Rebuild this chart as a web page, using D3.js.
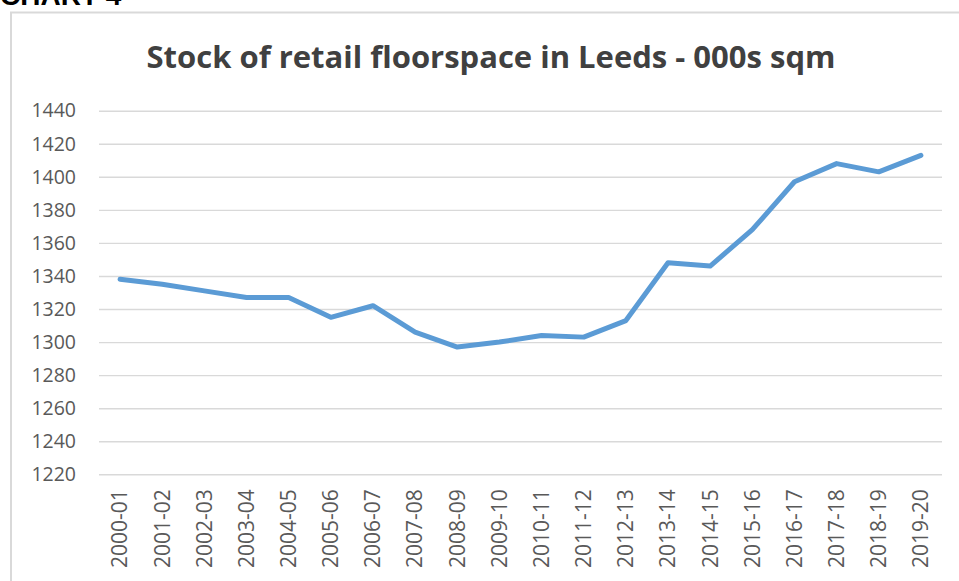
<!DOCTYPE html>
<html>
<head>
<meta charset="utf-8">
<script src="https://cdn.jsdelivr.net/npm/d3@7"></script>
<style>
  body { margin: 0; background: #fff; }
  svg { display: block; }
</style>
</head>
<body>
<div id="chart"></div>
<script>
// Financial years and floorspace stock (000s sqm)
const years = ["2000-01", "2001-02", "2002-03", "2003-04", "2004-05", "2005-06", "2006-07",
    "2007-08", "2008-09", "2009-10", "2010-11", "2011-12", "2012-13", "2013-14", "2014-15",
    "2015-16", "2016-17", "2017-18", "2018-19", "2019-20"];
const stock = [1338, 1335, 1331, 1327, 1327, 1315, 1322, 1306, 1297, 1300, 1304, 1303,
    1313, 1348, 1346, 1368, 1397, 1408, 1403, 1413];
const yTicks = [1220, 1240, 1260, 1280, 1300, 1320, 1340, 1360, 1380, 1400, 1420, 1440];

const width = 959, height = 581;
const margin = { top: 110.7, right: 17, bottom: 106.7, left: 99 };

const svg = d3.select("#chart").append("svg")
    .attr("width", width)
    .attr("height", height);

// "CHART 4" heading, cut off by the top of the page like in the source
svg.append("text")
    .attr("x", 0)
    .attr("y", 5)
    .attr("font-family", "Liberation Sans, Arial, sans-serif")
    .attr("font-weight", "bold")
    .attr("font-size", "28px")
    .attr("fill", "#000")
    .text("CHART 4");

// chart area border
svg.append("rect")
    .attr("x", 11)
    .attr("y", 12.5)
    .attr("width", width + 20)
    .attr("height", height + 20)
    .attr("fill", "none")
    .attr("stroke", "#d9d9d9")
    .attr("stroke-width", 2);

// title
svg.append("text")
    .attr("x", 491)
    .attr("y", 68)
    .attr("text-anchor", "middle")
    .attr("font-family", "Open Sans, sans-serif")
    .attr("font-weight", "bold")
    .attr("font-size", "31px")
    .attr("fill", "#404040")
    .text("Stock of retail floorspace in Leeds - 000s sqm");

const x = d3.scaleBand()
    .domain(years)
    .range([margin.left, width - margin.right])
    .padding(0);

const y = d3.scaleLinear()
    .domain([1220, 1440])
    .range([height - margin.bottom, margin.top]);

// gridlines + y labels
const yAxis = svg.append("g")
    .attr("transform", `translate(${margin.left},0)`)
    .call(d3.axisLeft(y).tickValues(yTicks).tickFormat(d3.format("d"))
        .tickSize(-(width - margin.left - margin.right)).tickPadding(23));
yAxis.select(".domain").remove();
yAxis.selectAll(".tick line").attr("stroke", "#d9d9d9").attr("stroke-width", 1.4);
yAxis.selectAll(".tick text")
    .attr("font-family", "Open Sans, sans-serif")
    .attr("font-size", "19.5px")
    .attr("fill", "#595959");

// x labels, rotated
const xAxis = svg.append("g")
    .attr("transform", `translate(0,${height - margin.bottom})`)
    .call(d3.axisBottom(x).tickSize(0));
xAxis.select(".domain").remove();
xAxis.selectAll(".tick text")
    .attr("font-family", "Open Sans, sans-serif")
    .attr("font-size", "21px")
    .attr("fill", "#595959")
    .attr("text-anchor", "end")
    .attr("transform", "rotate(-90)")
    .attr("x", -15)
    .attr("y", 0)
    .attr("dy", "0.35em");

// the line
const line = d3.line()
    .x((d, i) => x(years[i]) + x.bandwidth() / 2)
    .y(d => y(d));

svg.append("path")
    .datum(stock)
    .attr("fill", "none")
    .attr("stroke", "#5b9bd5")
    .attr("stroke-width", 5)
    .attr("stroke-linejoin", "round")
    .attr("stroke-linecap", "round")
    .attr("d", line);
</script>
</body>
</html>
